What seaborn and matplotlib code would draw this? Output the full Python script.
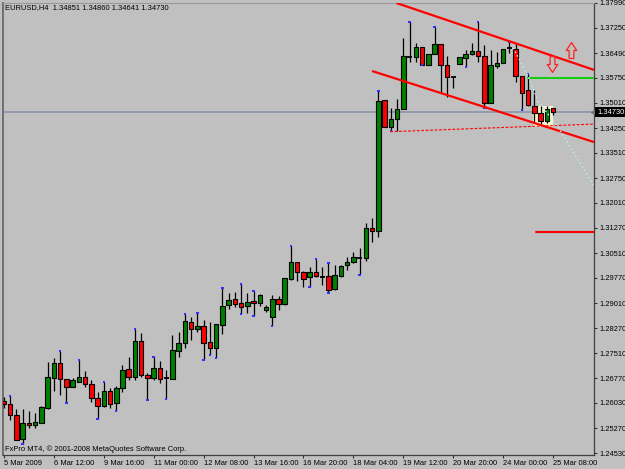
import numpy as np
import pandas as pd
import matplotlib
matplotlib.use("Agg")
import matplotlib.pyplot as plt
import matplotlib.transforms as mtransforms
from matplotlib.path import Path
import seaborn as sns

# ---------------- data (EURUSD H4) ----------------
opens = [1.2609, 1.2600, 1.2567, 1.2495, 1.2543, 1.2537, 1.2543, 1.2588, 1.2678, 1.2723,
         1.2675, 1.2651, 1.2666, 1.2681, 1.2660, 1.2618, 1.2594, 1.2639, 1.2603, 1.2648,
         1.2705, 1.2681, 1.2788, 1.2687, 1.2678, 1.2708, 1.2677, 1.2675, 1.2759, 1.2782,
         1.2845, 1.2824, 1.2833, 1.2785, 1.2767, 1.2836, 1.2896, 1.2914, 1.2902, 1.2893,
         1.2908, 1.2902, 1.2881, 1.2860, 1.2914, 1.2899, 1.2974, 1.3025, 1.2995, 1.2980,
         1.2995, 1.2980, 1.2983, 1.2944, 1.2983, 1.3016, 1.3025, 1.3037, 1.3037, 1.3126,
         1.3117, 1.3509, 1.3428, 1.3452, 1.3482, 1.3638, 1.3638, 1.3668, 1.3614, 1.3647,
         1.3676, 1.3614, 1.3578, 1.3617, 1.3635, 1.3647, 1.3656, 1.3641, 1.3500, 1.3611,
         1.3620, 1.3665, 1.3662, 1.3581, 1.3539, 1.3491, 1.3470, 1.3446, 1.34851]
highs = [1.2621, 1.2624, 1.2585, 1.2585, 1.2579, 1.2573, 1.2594, 1.2726, 1.2738, 1.2759,
         1.2675, 1.2678, 1.2732, 1.2699, 1.2672, 1.2636, 1.2666, 1.2648, 1.2654, 1.2717,
         1.2741, 1.2824, 1.2812, 1.2693, 1.2741, 1.2729, 1.2702, 1.2806, 1.2815, 1.2869,
         1.2860, 1.2872, 1.2851, 1.2845, 1.2839, 1.2947, 1.2932, 1.2935, 1.2959, 1.2932,
         1.2938, 1.2929, 1.2896, 1.2926, 1.2923, 1.2977, 1.3073, 1.3025, 1.2998, 1.3010,
         1.3034, 1.3010, 1.3022, 1.3016, 1.3016, 1.3040, 1.3055, 1.3067, 1.3141, 1.3156,
         1.3536, 1.3509, 1.3485, 1.3512, 1.3694, 1.3742, 1.3679, 1.3668, 1.3647, 1.3727,
         1.3676, 1.3641, 1.3578, 1.3638, 1.3659, 1.3679, 1.3742, 1.3673, 1.3659, 1.3653,
         1.3662, 1.3682, 1.3676, 1.3581, 1.3587, 1.3539, 1.3491, 1.3491, 1.34860]
lows = [1.2588, 1.2552, 1.2492, 1.2480, 1.2528, 1.2528, 1.2543, 1.2585, 1.2639, 1.2627,
        1.2603, 1.2651, 1.2666, 1.2651, 1.2606, 1.2555, 1.2591, 1.2588, 1.2579, 1.2636,
        1.2672, 1.2672, 1.2681, 1.2612, 1.2672, 1.2663, 1.2615, 1.2675, 1.2741, 1.2767,
        1.2791, 1.2815, 1.2732, 1.2747, 1.2738, 1.2809, 1.2884, 1.2890, 1.2869, 1.2872,
        1.2863, 1.2893, 1.2875, 1.2833, 1.2881, 1.2896, 1.2971, 1.2968, 1.2950, 1.2950,
        1.2980, 1.2956, 1.2932, 1.2941, 1.2980, 1.3001, 1.3022, 1.2986, 1.3028, 1.3084,
        1.3099, 1.3428, 1.3416, 1.3416, 1.3482, 1.3623, 1.3623, 1.3614, 1.3614, 1.3647,
        1.3533, 1.3518, 1.3545, 1.3617, 1.3608, 1.3644, 1.3623, 1.3485, 1.3500, 1.3605,
        1.3620, 1.3650, 1.3563, 1.3479, 1.3491, 1.3443, 1.3437, 1.3440, 1.34641]
closes = [1.2600, 1.2567, 1.2492, 1.2543, 1.2537, 1.2546, 1.2591, 1.2681, 1.2723, 1.2675,
          1.2651, 1.2672, 1.2681, 1.2660, 1.2618, 1.2594, 1.2639, 1.2600, 1.2648, 1.2702,
          1.2681, 1.2788, 1.2687, 1.2678, 1.2708, 1.2675, 1.2678, 1.2761, 1.2782, 1.2848,
          1.2824, 1.2833, 1.2782, 1.2767, 1.2839, 1.2893, 1.2911, 1.2899, 1.2890, 1.2905,
          1.2902, 1.2926, 1.2890, 1.2914, 1.2899, 1.2977, 1.3025, 1.2995, 1.2974, 1.2995,
          1.2983, 1.2980, 1.2941, 1.2986, 1.3013, 1.3025, 1.3040, 1.3037, 1.3126, 1.3117,
          1.3506, 1.3428, 1.3452, 1.3482, 1.3641, 1.3638, 1.3668, 1.3614, 1.3647, 1.3676,
          1.3614, 1.3578, 1.3578, 1.3638, 1.3647, 1.3656, 1.3641, 1.3500, 1.3614, 1.3620,
          1.3662, 1.3665, 1.3581, 1.3530, 1.3494, 1.3470, 1.3446, 1.3482, 1.34730]

fractal_up = [1, 9, 12, 16, 21, 24, 29, 31, 35, 38, 40, 46, 50, 52, 60, 65, 69, 76, 81, 84]
fractal_dn = [3, 10, 15, 18, 23, 26, 32, 33, 34, 38, 40, 43, 49, 52, 57, 62, 67, 74, 77, 83]

x_tick_pos = [0, 8, 16, 24, 32, 40, 48, 56, 64, 72, 80, 88]
x_tick_labels = ["5 Mar 2009", "6 Mar 12:00", "9 Mar 16:00", "11 Mar 00:00",
                 "12 Mar 08:00", "13 Mar 16:00", "16 Mar 20:00", "18 Mar 04:00",
                 "19 Mar 12:00", "20 Mar 20:00", "24 Mar 00:00", "25 Mar 08:00"]
y_tick_labels = ["1.37990", "1.37250", "1.36490", "1.35750", "1.35010", "1.34250",
                 "1.33510", "1.32750", "1.32010", "1.31270", "1.30510", "1.29770",
                 "1.29010", "1.28270", "1.27510", "1.26770", "1.26030", "1.25270", "1.24530"]

bid_price = 1.34730
# drawn objects (bar index, price)
upper_chan_x = [62.9, 94.56]
upper_chan_y = [1.37990, 1.35990]
lower_chan_x = [59.0, 94.56]
lower_chan_y = [1.35956, 1.33832]
dash_line_x = [61.9, 94.56]
dash_line_y = [1.34142, 1.34370]
green_level_x = [84.0, 94.56]
green_level_y = 1.35756
red_level_x = [85.2, 94.56]
red_level_y = 1.31140
cyan_x = [81.6, 84.0, 85.6, 88.9, 90.7, 92.3, 94.4]
cyan_y = [1.3665, 1.3580, 1.3505, 1.3425, 1.3369, 1.3321, 1.3255]
box_x = [84.8, 88.0]
box_y = [1.34283, 1.34911]
arrow_up_xy = (90.8, 1.36585)
arrow_dn_xy = (87.9, 1.36152)

title_text = "EURUSD,H4  1.34851 1.34860 1.34641 1.34730"
footer_text = "FxPro MT4, \u00a9 2001-2008 MetaQuotes Software Corp."

# ---------------- style ----------------
sns.set_theme(style="white")
plt.rcParams["font.family"] = ["Liberation Sans", "DejaVu Sans"]
BG = "#C0C0C0"
FS = 5.4

W, H = 625, 469
fig = plt.figure(figsize=(W / 100, H / 100), dpi=100)
fig.patch.set_facecolor(BG)
ax = fig.add_axes([3 / W, 1 - 455 / H, 591 / W, 452 / H])
ax.set_facecolor(BG)

df = pd.DataFrame({"i": np.arange(len(opens)), "o": opens, "h": highs,
                   "l": lows, "c": closes})
df["bottom"] = df[["o", "c"]].min(axis=1)
df["height"] = (df["c"] - df["o"]).abs()
doji = df["height"] < 0.00015
body_col = np.where(df["c"] > df["o"], "#008000", "#FF0000")

# background objects
ax.axhline(bid_price, color="#8E99AC", lw=1.3, zorder=1)
ax.fill_between(box_x, box_y[0], box_y[1], color="#F4F4CC", lw=0, zorder=1.5)

# candles
ax.vlines(df["i"], df["l"], df["h"], color="black", lw=0.9, zorder=3)
nd = ~doji.values
ax.bar(df["i"][nd], df["height"][nd], bottom=df["bottom"][nd], width=0.72,
       color=body_col[nd], edgecolor="black", linewidth=0.8, zorder=4)
ax.hlines(df["o"][doji], df["i"][doji] - 0.38, df["i"][doji] + 0.38,
          color="black", lw=1.3, zorder=4)

# fractal dots
fr = pd.DataFrame({"x": list(fractal_up) + list(fractal_dn),
                   "y": [highs[k] for k in fractal_up] + [lows[k] for k in fractal_dn]})
sns.scatterplot(data=fr, x="x", y="y", marker="s", s=3, color="#3030FF",
                edgecolor="none", ax=ax, zorder=5, legend=False)
ax.set_xlabel("")
ax.set_ylabel("")

# objects
ax.plot(upper_chan_x, upper_chan_y, color="#FF0000", lw=1.6, zorder=6, solid_capstyle="butt")
ax.plot(lower_chan_x, lower_chan_y, color="#FF0000", lw=1.6, zorder=6, solid_capstyle="butt")
ax.plot(dash_line_x, dash_line_y, color="#FF0000", lw=0.8, ls=(0, (2.5, 1.5)), zorder=6)
ax.plot(green_level_x, [green_level_y] * 2, color="#00D000", lw=1.3, zorder=6)
ax.plot(red_level_x, [red_level_y] * 2, color="#FF0000", lw=1.5, zorder=6)
ax.plot(cyan_x, cyan_y, color="#B8ECEC", lw=1.0, ls=(0, (1.2, 1.8)), zorder=6)

up_path = Path([(-0.3, -1), (0.3, -1), (0.3, 0), (0.65, 0), (0, 1), (-0.65, 0),
                (-0.3, 0), (-0.3, -1)],
               [Path.MOVETO] + [Path.LINETO] * 6 + [Path.CLOSEPOLY])
dn_path = Path([(x, -y) for x, y in up_path.vertices], up_path.codes)
ax.plot([arrow_up_xy[0]], [arrow_up_xy[1]], marker=up_path, ms=11.5, mfc="none",
        mec="#FF2020", mew=0.9, zorder=7)
ax.plot([arrow_dn_xy[0]], [arrow_dn_xy[1]], marker=dn_path, ms=11.5, mfc="none",
        mec="#FF2020", mew=0.9, zorder=7)

# axes
ax.set_xlim(-0.15, 94.56)
ax.set_ylim(1.24475, 1.37990)
ax.set_xticks(x_tick_pos)
ax.set_xticklabels(x_tick_labels)
for lab in ax.get_xticklabels():
    lab.set_ha("left")
ax.set_yticks([float(s) for s in y_tick_labels])
ax.set_yticklabels(y_tick_labels)
ax.yaxis.tick_right()
ax.tick_params(axis="x", bottom=True, direction="out", length=2.5, width=0.8,
               pad=1.0, labelsize=FS, color="#303030", labelcolor="black")
ax.tick_params(axis="y", right=True, left=False, direction="out", length=2.5,
               width=0.8, pad=1.2, labelsize=FS, color="#303030", labelcolor="black")
ax.grid(False)
for s in ["right", "bottom"]:
    ax.spines[s].set_color("#404040")
    ax.spines[s].set_linewidth(0.9)
ax.spines["left"].set_color("#6E6E6E")
ax.spines["left"].set_linewidth(1.4)
ax.spines["top"].set_color("#9A9A9A")
ax.spines["top"].set_linewidth(0.8)

# current price label
trans = mtransforms.blended_transform_factory(ax.transAxes, ax.transData)
ax.plot([0.998], [bid_price], marker="<", ms=3, color="#707070", transform=trans,
        clip_on=False, zorder=8)
ax.text(1.0 + 3 / 591, bid_price, "1.34730", transform=trans, ha="left", va="center",
        fontsize=FS, color="white", zorder=9,
        bbox=dict(boxstyle="square,pad=0.25", fc="black", ec="none"))

fig.text(5 / W, 1 - 8 / H, title_text, fontsize=FS, ha="left", va="center", color="black")
fig.text(5 / W, 1 - 449 / H, footer_text, fontsize=FS, ha="left", va="center", color="black")

fig.savefig("out.png", dpi=100, facecolor=BG)
